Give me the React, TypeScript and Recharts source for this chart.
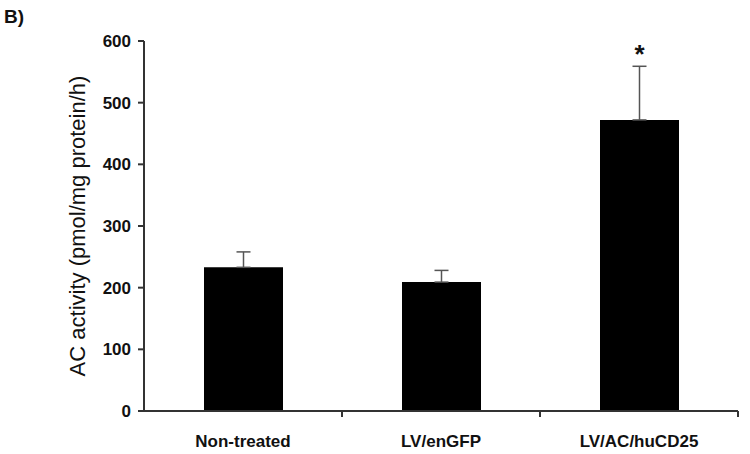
import React from 'react';
import { BarChart, Bar, XAxis, YAxis, ErrorBar, LabelList } from 'recharts';

const categories = ['Non-treated', 'LV/enGFP', 'LV/AC/huCD25'];
const activity = [233, 209, 472];
const errorUpper = [25, 19, 87];
const significance = ['', '', '*'];
const yTicks = [0, 100, 200, 300, 400, 500, 600];

const data = categories.map((name, i) => ({
  name,
  value: activity[i],
  err: [0, errorUpper[i]],
  sig: significance[i],
}));

const FONT = 'Arial, "Liberation Sans", Helvetica, sans-serif';

const XTick = (props: any) => {
  const { x, y, payload } = props;
  const off = payload && typeof payload.offset === 'number' ? payload.offset : 0;
  return (
    <g>
      {off ? (
        <line x1={x + off} y1={y} x2={x + off} y2={y + 6} stroke="#333" strokeWidth={2} />
      ) : null}
      <text x={x} y={y + 36} textAnchor="middle" fontFamily={FONT} fontWeight="bold" fontSize={17} fill="#111">
        {payload.value}
      </text>
    </g>
  );
};

const YLabel = (props: any) => {
  const vb = props.viewBox || {};
  const cx = 77;
  const cy = vb.y + vb.height / 2;
  return (
    <text
      x={cx}
      y={cy}
      transform={`rotate(-90, ${cx}, ${cy})`}
      textAnchor="middle"
      dominantBaseline="central"
      fontFamily={FONT}
      fontSize={22}
      fill="#111"
    >
      AC activity (pmol/mg protein/h)
    </text>
  );
};

export default function App() {
  return (
    <div style={{ position: 'absolute', left: 0, top: 0, width: 750, height: 454, background: '#fff' }}>
      <div style={{ position: 'absolute', left: 4, top: 6, fontFamily: FONT, fontWeight: 'bold', fontSize: 19, color: '#111' }}>
        B)
      </div>
      <BarChart width={750} height={454} data={data} margin={{ top: 41, right: 12, bottom: 0, left: 44 }}>
        <XAxis
          dataKey="name"
          axisLine={{ stroke: '#333', strokeWidth: 2 }}
          tickLine={false}
          tick={<XTick />}
          tickSize={0}
          tickMargin={0}
          interval={0}
          height={43}
        />
        <YAxis
          domain={[0, 600]}
          ticks={yTicks}
          width={100}
          axisLine={{ stroke: '#333', strokeWidth: 2 }}
          tickLine={{ stroke: '#333', strokeWidth: 2 }}
          tickSize={6}
          tickMargin={7}
          tick={{ fontFamily: FONT, fontWeight: 'bold', fontSize: 17, fill: '#111' }}
          label={<YLabel />}
        />
        <Bar dataKey="value" fill="#000" barSize={79} isAnimationActive={false}>
          <ErrorBar dataKey="err" direction="y" width={7} stroke="#555" strokeWidth={1.5} />
          <LabelList dataKey="sig" position="top" offset={57} fontFamily={FONT} fontWeight="bold" fontSize={26} fill="#111" />
        </Bar>
      </BarChart>
    </div>
  );
}
